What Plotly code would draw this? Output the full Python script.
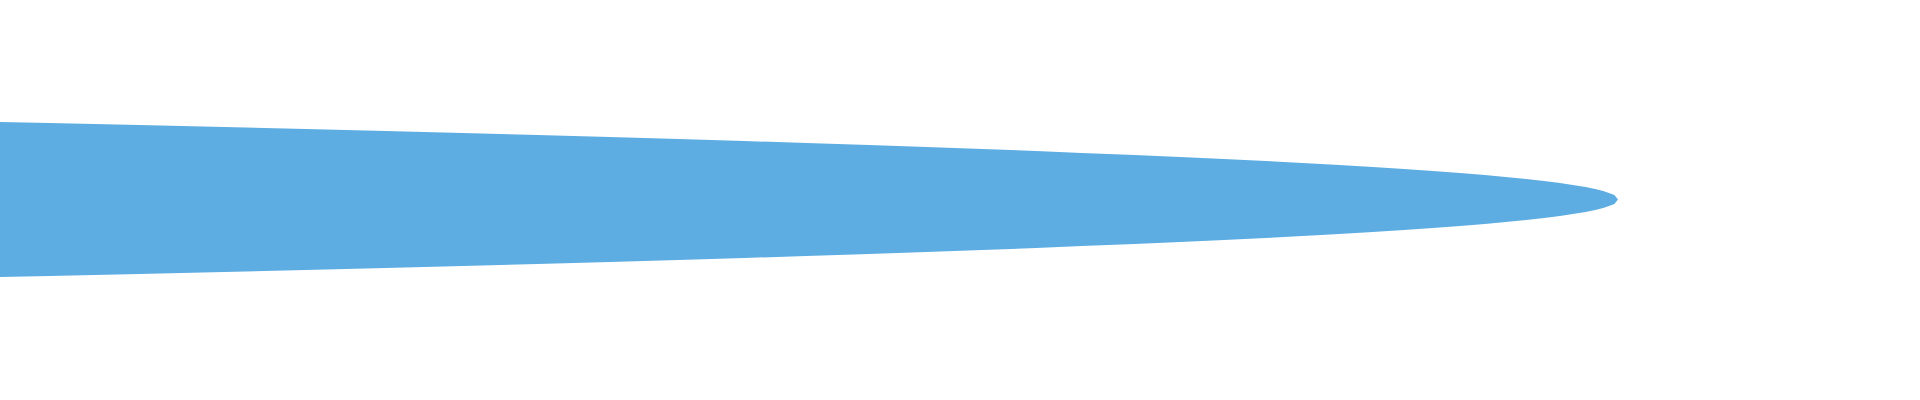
import plotly.graph_objects as go

# profile of the shape: position along the axis and full width at that position
position = [0, 3.1, 8.7, 14.0, 19.1, 24.1, 28.9, 33.6, 38.1, 42.4, 46.5, 50.4,
            54.3, 57.9, 61.4, 64.75, 67.6, 70.9, 73.75, 76.5, 79.1, 81.4, 83.7,
            85.8, 87.75, 89.55, 91.25, 92.8, 94.1, 95.4, 96.5, 97.5, 98.3, 99.1,
            99.7, 100.2, 100.56, 100.9, 101.0, 101.125]
width = [15.5, 15.3, 14.9, 14.5, 14.1, 13.7, 13.3, 12.9, 12.5, 12.1, 11.7, 11.3,
         10.9, 10.5, 10.1, 9.7, 9.3, 8.9, 8.5, 8.1, 7.7, 7.3, 6.9, 6.5, 6.1, 5.7,
         5.3, 4.9, 4.5, 4.1, 3.7, 3.3, 2.9, 2.5, 2.1, 1.7, 1.3, 0.9, 0.5, 0.0]

fill_color = '#5DADE2'

# upper edge left->right, then lower edge right->left
upper = [w / 2 for w in width]
lower = [-w / 2 for w in width]
xs = position + position[::-1]
ys = upper + lower[::-1]

fig = go.Figure()
fig.add_trace(go.Scatter(x=xs, y=ys, mode='none', fill='toself',
                         fillcolor=fill_color, hoverinfo='skip'))

fig.update_layout(
    width=1920,
    height=400,
    margin=dict(l=0, r=0, t=0, b=0),
    paper_bgcolor='white',
    plot_bgcolor='white',
    showlegend=False,
    xaxis=dict(visible=False, range=[0, 120]),
    yaxis=dict(visible=False, range=[-20.05, 19.95]),
)

# no page margin (figure flush with the window) and no modebar on hover
page_js = (
    "document.body.style.margin='0';"
    "var s=document.createElement('style');"
    "s.textContent='.modebar-container{display:none !important;}';"
    "document.head.appendChild(s);"
)
fig.write_html('out.html', post_script=page_js)
